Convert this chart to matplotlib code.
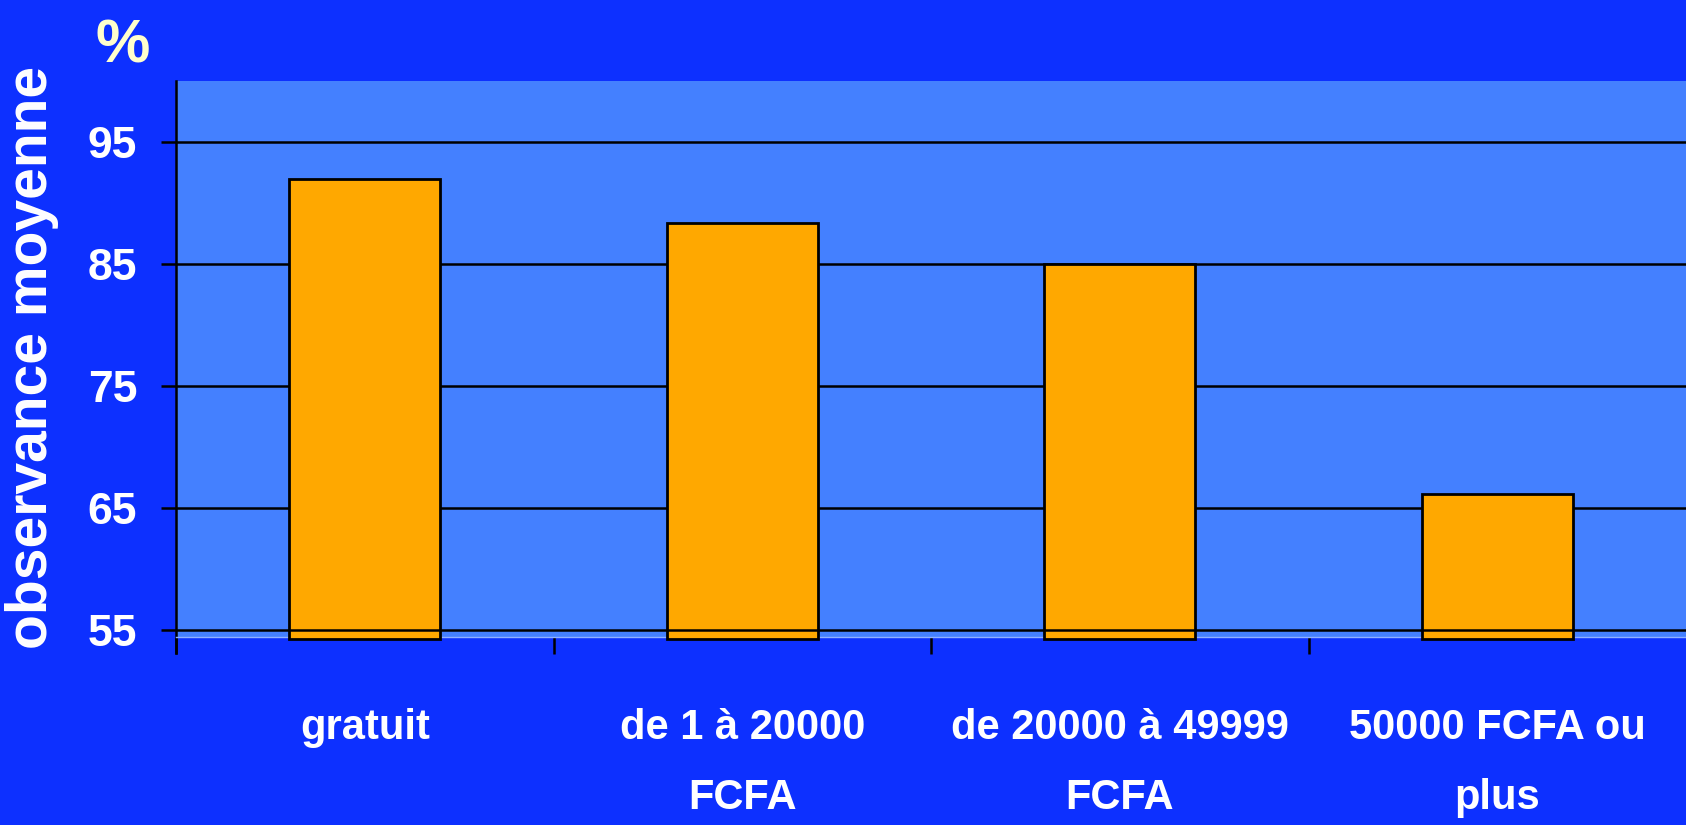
import numpy as np
import matplotlib.pyplot as plt
from matplotlib.transforms import blended_transform_factory

categories = ['gratuit', 'de 1 à 20000\nFCFA', 'de 20000 à 49999\nFCFA', '50000 FCFA ou\nplus']
values = [92.0, 88.4, 85.0, 66.2]
yticks = [55, 65, 75, 85, 95]

BG = '#0d30ff'
PLOT_BG = '#4480ff'
BAR = '#ffa800'
FONT = ['Liberation Sans', 'DejaVu Sans']

fig = plt.figure(figsize=(16.86, 8.25), dpi=100, facecolor=BG)
ax = fig.add_axes([0.1044, 0.2279, 0.8956, 0.6739], facecolor=PLOT_BG)

x = np.arange(len(categories))
base = 54.3
ax.bar(x, np.array(values) - base, bottom=base, width=0.4, color=BAR,
       edgecolor='black', linewidth=2, zorder=3, clip_on=False)

# gridlines sit behind the bars, the 55 line is drawn over them
for y in yticks[1:]:
    ax.axhline(y, color='black', lw=1.8, zorder=1)
ax.axhline(yticks[0], color='black', lw=1.8, zorder=4)

ax.set_xlim(-0.5, len(categories) - 0.5)
ax.set_ylim(54.45, 100)

ax.spines['top'].set_visible(False)
ax.spines['right'].set_visible(False)
ax.spines['left'].set_color('black')
ax.spines['left'].set_linewidth(1.8)
ax.spines['left'].set_bounds(53.1, 100)
ax.spines['bottom'].set_color('#8fb0ff')
ax.spines['bottom'].set_linewidth(1)

ax.set_yticks(yticks)
ax.set_yticklabels([str(v) for v in yticks], family=FONT, fontweight='bold',
                   fontsize=32, color='white')
ax.tick_params(axis='y', length=11, width=1.8, color='black', pad=17)

ax.set_xticks(np.arange(-0.5, len(categories) - 0.5), labels=[])
ax.tick_params(axis='x', length=12, width=1.8, color='black', direction='out')

trans = blended_transform_factory(ax.transData, ax.transAxes)
for xi, lab in zip(x, categories):
    ax.text(xi, -0.128, lab, transform=trans, ha='center', va='top',
            family=FONT, fontweight='bold', fontsize=30, color='white',
            linespacing=1.95)

fig.text(0.019, 0.567, 'observance moyenne', rotation=90, ha='center', va='center',
         family=FONT, fontweight='bold', fontsize=41, color='white')
fig.text(0.073, 0.943, '%', ha='center', va='center', family=FONT,
         fontweight='bold', fontsize=44, color='#ffffcc')

fig.savefig('out.png', dpi=100, facecolor=BG)
